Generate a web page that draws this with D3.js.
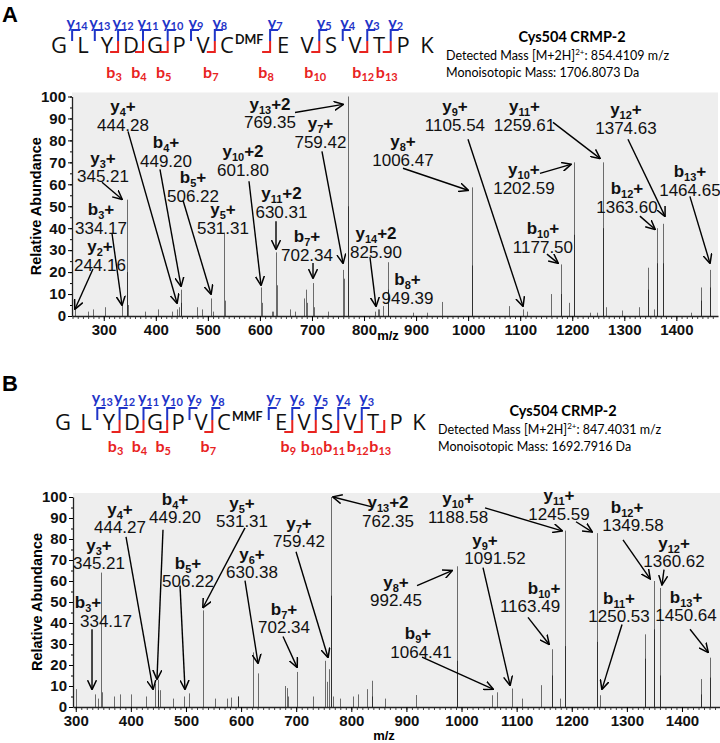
<!DOCTYPE html>
<html><head><meta charset="utf-8">
<script src="https://cdn.jsdelivr.net/npm/d3@7"></script>
<style>body{margin:0;background:#fff}svg{display:block}</style>
</head><body>
<svg id="c" width="720" height="743"></svg>
<script>
// ---------------- DATA ----------------
const seqA = ["G","L","Y","D","G","P","V","C","E","V","S","V","T","P","K"];
const modA = "DMF";            // modification on Cys (index 7)
const yIonsA = [14,13,12,11,10,9,8,7,5,4,3,2];
const bIonsA = [3,4,5,7,8,10,12,13];
const titleA = "Cys504 CRMP-2";
const detA = "854.4109 m/z";
const monoA = "Monoisotopic Mass: 1706.8073 Da";

const seqB = ["G","L","Y","D","G","P","V","C","E","V","S","V","T","P","K"];
const modB = "MMF";
const yIonsB = [13,12,11,10,9,8,7,6,5,4,3];
const bIonsB = [3,4,5,7,9,10,11,12,13];
const titleB = "Cys504 CRMP-2";
const detB = "847.4031 m/z";
const monoB = "Monoisotopic Mass: 1692.7916 Da";

const xTicks = [300,400,500,600,700,800,900,1000,1100,1200,1300,1400];
const yTicks = [0,10,20,30,40,50,60,70,80,90,100];

// spectrum A peaks (m/z, relative abundance); repeated m/z = overlapping lines
const mzA  = [244.16,270.6,280,302.7,334.17,345.21,345.21,347,379.5,405,430.8,440,444.28,449.20,449.20,478.8,488.4,506.22,510.7,531.31,533,601.80,603.6,623,626,630.31,632.5,658,667.6,685,688.8,691,702.34,704,731.6,759.42,761.8,769.35,769.35,821,825.90,828,837,845.7,845.7,895,920.6,949.39,1006.47,1006.47,1078.7,1105.54,1112.7,1159.4,1177.50,1177.50,1194.5,1202.59,1202.59,1234,1247,1259.61,1259.61,1265,1295,1328,1346,1346,1357,1363.60,1363.60,1374.63,1374.63,1429,1447,1447,1464.65,1464.65];
const intA = [3,2,3,4,5,53,20,5,2,3,2,3,4,12,6,4,3,8,2,38,7,13,6,2,2,29,14,3,2,8,12,6,15,4,2,21,17,100,50,2,3,3,4.5,24.5,12,1.5,1.5,6.4,58.6,23,4.5,3,2,10,23.5,10,6,70,37,1.5,1.5,70,40,4,2.5,4,22,12,3,40,24,42,24,1.5,13,7,21,13];

// spectrum B peaks
const mzB  = [300.2,334.17,340.5,345.21,347,369,381,401,426.6,444.27,449.20,449.20,452,476.8,496.7,506.22,531.31,552,573.6,581.4,593.5,593.5,622,630.38,679.4,682.5,685,702.34,729.7,752,755,759.42,762.35,762.35,767,779,803,812,827.6,836.7,836.7,861,917,992.45,992.45,1054.5,1064.41,1091.52,1109,1145,1163.49,1163.49,1178.5,1188.58,1188.58,1245.59,1245.59,1250.53,1332.7,1332.7,1349.58,1349.58,1360.62,1360.62,1433.7,1433.7,1450.64,1450.64];
const intB = [8.5,6,4,64,7,5,6,6,5,11,13,8,8,4,5,6.5,46,4,4,4.5,5,5,26,16,10,9,5,16.7,5,22,12,18,100,53,5,4,5,6,8.5,12.5,5,4,5.7,67,22,5.6,7,8.8,4,10.4,27.5,15,4,84,29,82.8,31,5.6,34.6,23,60,37,56.7,15,13.3,6,23.5,14];

// annotations: ion label, number; label/arrow anchors in data units (m/z, abundance)
const annA = [
 {ion:"y",n:"2",z:"+",num:"244.16",lx:292.8,ly:31.8,tail:[279.3,21.4],head:[244.8,3.2]},
 {ion:"b",n:"3",z:"+",num:"334.17",lx:294.7,ly:48.6,tail:[315.8,37.7],head:[335.0,5.0]},
 {ion:"y",n:"3",z:"+",num:"345.21",lx:298.5,ly:72,tail:[296.6,60.9],head:[335.0,53.2]},
 {ion:"y",n:"4",z:"+",num:"444.28",lx:337,ly:95.5,tail:[346.6,84.1],head:[440.7,5.9]},
 {ion:"b",n:"4",z:"+",num:"449.20",lx:419.6,ly:79.1,tail:[408,66.8],head:[448.4,13.6]},
 {ion:"b",n:"5",z:"+",num:"506.22",lx:471.4,ly:63.2,tail:[452.2,52.7],head:[506.0,10]},
 {ion:"y",n:"5",z:"+",num:"531.31",lx:529,ly:48.6},
 {ion:"y",n:"10",z:"+2",num:"601.80",lx:567.5,ly:75,tail:[579,61.4],head:[602.1,14.1]},
 {ion:"y",n:"11",z:"+2",num:"630.31",lx:641.4,ly:56,tail:[630.9,43.2],head:[630.9,30.5]},
 {ion:"b",n:"7",z:"+",num:"702.34",lx:690.4,ly:36.4,tail:[702,24.1],head:[702,17.3]},
 {ion:"y",n:"7",z:"+",num:"759.42",lx:716.3,ly:87.7,tail:[719.2,75],head:[759.6,24.1]},
 {ion:"y",n:"13",z:"+2",num:"769.35",lx:619.3,ly:96.8,tail:[667.4,92.7],head:[759.6,96.4]},
 {ion:"y",n:"14",z:"+2",num:"825.90",lx:823,ly:37.7,tail:[811.4,26.8],head:[823,4.5]},
 {ion:"b",n:"8",z:"+",num:"949.39",lx:883.5,ly:16.8},
 {ion:"y",n:"8",z:"+",num:"1006.47",lx:874.8,ly:79.5,tail:[874.8,67.3],head:[999.7,57.3]},
 {ion:"y",n:"9",z:"+",num:"1105.54",lx:974.7,ly:95.5,tail:[999.7,80.5],head:[1105.3,4.5]},
 {ion:"y",n:"11",z:"+",num:"1259.61",lx:1108.2,ly:95.5,tail:[1163,88.2],head:[1253.2,71.8]},
 {ion:"y",n:"10",z:"+",num:"1202.59",lx:1107.2,ly:66.8,tail:[1138,65],head:[1197.5,69.1]},
 {ion:"y",n:"12",z:"+",num:"1374.63",lx:1303.2,ly:94.1,tail:[1307,80.5],head:[1378,45.5]},
 {ion:"b",n:"12",z:"+",num:"1363.60",lx:1305.1,ly:58.2,tail:[1330,45.5],head:[1358.9,39.5]},
 {ion:"b",n:"13",z:"+",num:"1464.65",lx:1426.1,ly:65.9,tail:[1426,54.5],head:[1464.5,24.1]},
 {ion:"b",n:"10",z:"+",num:"1177.50",lx:1143.7,ly:40,tail:[1151.4,28.2],head:[1172.6,24.1]}
];
const annB = [
 {ion:"y",n:"4",z:"+",num:"444.27",lx:380.3,ly:94.3,tail:[391.2,81],head:[440.2,8.5]},
 {ion:"b",n:"4",z:"+",num:"449.20",lx:480.1,ly:99.1,tail:[458.3,84.4],head:[447.4,13.3]},
 {ion:"y",n:"3",z:"+",num:"345.21",lx:342.2,ly:77.3},
 {ion:"b",n:"3",z:"+",num:"334.17",lx:322.2,nx:354.9,ly:49.8,tail:[329.5,37],head:[329.5,8.5]},
 {ion:"b",n:"5",z:"+",num:"506.22",lx:503.7,ly:68.7,tail:[489.2,57.8],head:[498.2,8.5]},
 {ion:"y",n:"5",z:"+",num:"531.31",lx:601.7,ly:97.2,tail:[607.1,85.3],head:[530.9,47.4]},
 {ion:"y",n:"6",z:"+",num:"630.38",lx:619.8,ly:73,tail:[607.1,60.2],head:[630.7,20.9]},
 {ion:"b",n:"7",z:"+",num:"702.34",lx:677.9,ly:46.9,tail:[676.1,33.6],head:[701.5,19]},
 {ion:"y",n:"7",z:"+",num:"759.42",lx:705.1,ly:87.7,tail:[699.7,73.9],head:[757.7,23.7]},
 {ion:"y",n:"13",z:"+2",num:"762.35",lx:866.6,ly:97.6,tail:[837.6,95.3],head:[766.8,100]},
 {ion:"y",n:"10",z:"+",num:"1188.58",lx:993.6,ly:99.5,tail:[1042.6,94.8],head:[1182.3,83.9]},
 {ion:"y",n:"11",z:"+",num:"1245.59",lx:1176.9,ly:100.9,tail:[1207.7,88.2],head:[1236.8,83.4]},
 {ion:"b",n:"12",z:"+",num:"1349.58",lx:1300.3,nx:1311.2,ly:95.3,tail:[1293,79.6],head:[1342,61.1]},
 {ion:"y",n:"9",z:"+",num:"1091.52",lx:1042.6,nx:1060.8,ly:79.6,tail:[1039,66.4],head:[1088,10.4]},
 {ion:"y",n:"12",z:"+",num:"1360.62",lx:1385.6,ly:78.2,tail:[1367.4,65.4],head:[1363.8,58.3]},
 {ion:"y",n:"8",z:"+",num:"992.45",lx:881.1,ly:59.7,tail:[919.2,57.8],head:[982.7,64.9]},
 {ion:"b",n:"10",z:"+",num:"1163.49",lx:1149.7,nx:1124.3,ly:56.9,tail:[1120.6,42.7],head:[1158.8,29.9]},
 {ion:"b",n:"11",z:"+",num:"1250.53",lx:1285.8,ly:52.1,tail:[1291.2,39.3],head:[1254.9,8.5]},
 {ion:"b",n:"13",z:"+",num:"1450.64",lx:1407.4,ly:52.6,tail:[1414.6,37],head:[1447.3,26.1]},
 {ion:"b",n:"9",z:"+",num:"1064.41",lx:921,nx:926.5,ly:35.1,tail:[928.3,23.7],head:[1057.1,8.5]}
];

// ---------------- DRAW ----------------
const svg = d3.select("#c");
const BLUE = "#1f35c8", RED = "#e8231f";
const AX = "'Liberation Sans', Arial, sans-serif";
const SEQF = "'Open Sans', Lato, sans-serif";
const INF = "Lato, 'Open Sans', sans-serif";

const defs = svg.append("defs");
defs.append("marker").attr("id","arr").attr("viewBox","0 0 10 10")
  .attr("refX",9).attr("refY",5).attr("markerWidth",10).attr("markerHeight",10)
  .attr("markerUnits","userSpaceOnUse").attr("orient","auto")
  .append("path").attr("d","M0,0.5 L9.5,5 L0,9.5").attr("fill","none")
  .attr("stroke","#000").attr("stroke-width",1.5);

function panelLetter(txt, y){
  svg.append("text").attr("x",2).attr("y",y).text(txt)
    .style("font-family",AX).style("font-weight","bold").style("font-size","22px");
}

function header(cfg){
  const g = svg.append("g");
  const pos = []; let x = cfg.x0;
  cfg.seq.forEach((r,i)=>{ pos.push(x); x += cfg.step; if(i===cfg.modIdx) x += cfg.gap; });
  const letters = g.selectAll("text.res").data(cfg.seq).join("text").attr("class","res")
    .attr("x",(d,i)=>pos[i]).attr("y",cfg.base).attr("text-anchor","middle")
    .style("font-family",SEQF).style("font-size","22px").attr("fill","#111").text(d=>d);
  const w = letters.nodes().map(n=>n.getComputedTextLength());
  const mod = g.append("text").attr("x",pos[cfg.modIdx]+w[cfg.modIdx]/2+1).attr("y",cfg.base-9)
    .style("font-family",INF).style("font-weight","bold").style("font-size","12.5px").attr("fill","#111").text(cfg.mod);
  const modW = mod.node().getComputedTextLength();
  const L = cfg.seq.length;
  const cut = k => {
    const le = pos[k-1] + w[k-1]/2 + (k-1===cfg.modIdx ? modW+1 : 0);
    const re = pos[k] - w[k]/2;
    return (le+re)/2;
  };
  const top = cfg.top, bot = cfg.bot, mid = (top+bot)/2;
  cfg.yIons.forEach(n=>{
    const cx = cut(L-n);
    g.append("path").attr("d",`M${cx},${mid}V${top}H${cx+8}`).attr("fill","none")
      .attr("stroke",BLUE).attr("stroke-width",2);
    const t = g.append("text").attr("x",cx+5).attr("y",cfg.yLab).attr("text-anchor","middle")
      .style("font-family",INF).style("font-weight","bold").style("font-size","16px").attr("fill",BLUE);
    t.append("tspan").text("y");
    t.append("tspan").attr("dy",2.5).style("font-size","11px").text(n);
  });
  cfg.bIons.forEach(n=>{
    const cx = cut(n);
    g.append("path").attr("d",`M${cx},${mid}V${bot}H${cx-8}`).attr("fill","none")
      .attr("stroke",RED).attr("stroke-width",2);
    const t = g.append("text").attr("x",cx-4).attr("y",cfg.bLab).attr("text-anchor","middle")
      .style("font-family",INF).style("font-weight","bold").style("font-size","16px").attr("fill",RED);
    t.append("tspan").text("b");
    t.append("tspan").attr("dy",3).style("font-size","11px").text(n);
  });
  // info block
  svg.append("text").attr("x",cfg.infoX).attr("y",cfg.infoY).attr("text-anchor","middle")
    .style("font-family",INF).style("font-weight","bold").style("font-size","14.5px").text(cfg.title);
  const d = svg.append("text").attr("x",cfg.infoL).attr("y",cfg.infoY+18)
    .style("font-family",INF).style("font-size","12.5px");
  d.append("tspan").text("Detected Mass [M+2H]");
  d.append("tspan").attr("dy",-5).style("font-size","8px").text("2+");
  d.append("tspan").attr("dy",5).text(": "+cfg.det);
  svg.append("text").attr("x",cfg.infoL).attr("y",cfg.infoY+35)
    .style("font-family",INF).style("font-size","12.5px").text(cfg.mono);
}

function spectrum(cfg){
  const x = d3.scaleLinear().domain(cfg.xd).range([cfg.left, cfg.right]);
  const y = d3.scaleLinear().domain([0,100]).range([cfg.bottom, cfg.top]);
  const g = svg.append("g");
  g.append("rect").attr("x",cfg.left).attr("y",cfg.top-4).attr("width",cfg.right-cfg.left)
    .attr("height",cfg.bottom-cfg.top+4).attr("fill","#eeeeee");
  // peaks
  g.append("g").selectAll("line").data(cfg.mz.map((m,i)=>[m,cfg.int[i]])).join("line")
    .attr("x1",d=>Math.round(x(d[0]))+0.5).attr("x2",d=>Math.round(x(d[0]))+0.5)
    .attr("y1",y(0)).attr("y2",d=>y(d[1]))
    .attr("stroke","#000").attr("stroke-opacity",0.55).attr("stroke-width",1);
  // axes
  const minorX = d3.range(Math.ceil(cfg.xd[0]/10)*10, cfg.xd[1], 10);
  const xa = g.append("g").attr("transform",`translate(0,${cfg.bottom})`)
    .call(d3.axisBottom(x).tickValues(minorX).tickSize(3).tickFormat(""));
  xa.select(".domain").remove();
  xa.selectAll("line").attr("stroke","#444");
  const xb = g.append("g").attr("transform",`translate(0,${cfg.bottom})`)
    .call(d3.axisBottom(x).tickValues(xTicks).tickSize(5).tickPadding(3).tickSizeOuter(0).tickFormat(d3.format("d")));
  xb.selectAll("text").style("font-family",AX).style("font-weight","bold").style("font-size","15px").attr("fill","#111");
  xb.select(".domain").attr("stroke","#222").attr("stroke-width",1.3);
  const ya0 = g.append("g").attr("transform",`translate(${cfg.left},0)`)
    .call(d3.axisLeft(y).tickValues(d3.range(0,101,5)).tickSize(2).tickFormat(""));
  ya0.select(".domain").remove();
  const ya = g.append("g").attr("transform",`translate(${cfg.left},0)`)
    .call(d3.axisLeft(y).tickValues(yTicks).tickSize(4).tickPadding(2).tickSizeOuter(0).tickFormat(d3.format("d")));
  ya.selectAll("text").style("font-family",AX).style("font-weight","bold").style("font-size","15px").attr("fill","#111");
  ya.select(".domain").attr("stroke","#222").attr("stroke-width",1.3);
  g.append("text").attr("transform",`translate(${cfg.left-31},${(cfg.top+cfg.bottom)/2}) rotate(-90)`)
    .attr("text-anchor","middle").style("font-family",AX).style("font-weight","bold").style("font-size","14.5px")
    .text("Relative Abundance");
  g.append("text").attr("x",cfg.mzX).attr("y",cfg.mzY).attr("text-anchor","middle")
    .style("font-family",AX).style("font-weight","bold").style("font-size","13px").text("m/z");
  // annotations
  const ag = g.append("g");
  cfg.ann.forEach(a=>{
    if(a.tail){
      ag.append("line").attr("x1",x(a.tail[0])).attr("y1",y(a.tail[1]))
        .attr("x2",x(a.head[0])).attr("y2",y(a.head[1]))
        .attr("stroke","#000").attr("stroke-width",1.4).attr("marker-end","url(#arr)");
    }
    const cy = y(a.ly);
    const t = ag.append("text").attr("x",x(a.lx)).attr("y",cy+6).attr("text-anchor","middle")
      .style("font-family",AX).style("font-weight","bold").style("font-size","17px").attr("fill","#111");
    t.append("tspan").text(a.ion);
    t.append("tspan").attr("dy",4).style("font-size","11px").text(a.n);
    t.append("tspan").attr("dy",-4).text(a.z);
    ag.append("text").attr("x",x(a.nx||a.lx)).attr("y",cy+24.5).attr("text-anchor","middle")
      .style("font-family",AX).style("font-size","17px").attr("fill","#111").text(a.num);
  });
}

panelLetter("A",22);
header({seq:seqA,modIdx:7,mod:modA,yIons:yIonsA,bIons:bIonsA,base:53,top:30,bot:52,yLab:27.5,bLab:78,x0:59,step:24,gap:32,
  title:titleA,det:detA,mono:monoA,infoX:572,infoY:42,infoL:446});
spectrum({xd:[239,1480],left:72,right:718,top:96.5,bottom:316,mz:mzA,int:intA,ann:annA,mzX:388,mzY:340});

panelLetter("B",391);
header({seq:seqB,modIdx:7,mod:modB,yIons:yIonsB,bIons:bIonsB,base:430,top:408,bot:432,yLab:403,bLab:452,x0:63,step:23,gap:34,
  title:titleB,det:detB,mono:monoB,infoX:563,infoY:416,infoL:438});
spectrum({xd:[295,1469],left:73,right:720,top:497,bottom:707,mz:mzB,int:intB,ann:annB,mzX:384,mzY:740});
</script>
</body></html>
